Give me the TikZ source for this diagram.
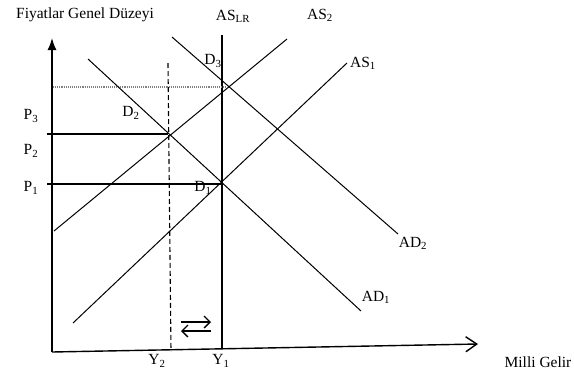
\documentclass[tikz,border=0pt]{standalone}
\usepackage{fontspec}
\setmainfont{Liberation Serif}
\usetikzlibrary{arrows.meta}

\begin{document}
\begin{tikzpicture}[x=1pt, y=-1pt,
      lbl/.style={font=\fontsize{15.5}{18}\selectfont, inner sep=1pt},
      curve/.style={line width=1pt},
      axis/.style={line width=1.4pt},
      guide/.style={line width=1.1pt},
      barb/.style={line width=1.3pt, -{Straight Barb[length=6pt, width=12pt]}}]
    \useasboundingbox (0,0) rectangle (574,376);
    % axes
    \coordinate (O) at (52,352);
    \coordinate (ytop) at (52,38);
    \coordinate (xend) at (478,344);
    \draw[axis, -{Latex[length=12pt, width=9pt]}] (O) -- (ytop);
    \draw[axis, -{Straight Barb[length=11pt, width=15pt]}] (O) -- (xend);
    % equilibria
    \coordinate (D1) at (222,184);
    \coordinate (D2) at (168,134);
    \coordinate (D3) at (227,87);
    % long run supply and new output
    \coordinate (lrtop) at (222,35);
    \coordinate (lrbot) at (222,349);
    \draw[line width=2.6pt] (lrtop) -- (lrbot);
    \coordinate (y2top) at (168,63);
    \coordinate (y2bot) at (171,351);
    \draw[guide, dash pattern=on 5pt off 3pt] (y2top) -- (y2bot);
    % price levels
    \coordinate (p1l) at (47,184);
    \coordinate (p2l) at (47,134);
    \coordinate (p3l) at (53,87);
    \draw[guide] (p1l) -- (D1);
    \draw[guide] (p2l) -- (D2);
    \draw[guide, gray, densely dotted] (p3l) -- (D3);
    % supply and demand
    \coordinate (as1a) at (73,323);   \coordinate (as1b) at (347,63);
    \coordinate (as2a) at (54,231);   \coordinate (as2b) at (287,39);
    \coordinate (ad1a) at (88,59);    \coordinate (ad1b) at (361,311);
    \coordinate (ad2a) at (172,37);   \coordinate (ad2b) at (398,234);
    \draw[curve] (as1a) -- (as1b);
    \draw[curve] (as2a) -- (as2b);
    \draw[curve] (ad1a) -- (ad1b);
    \draw[curve] (ad2a) -- (ad2b);
    % adjustment arrows
    \coordinate (ra) at (181,322); \coordinate (rb) at (211,322);
    \coordinate (la) at (211,331); \coordinate (lb) at (181,331);
    \draw[barb] (ra) -- (rb);
    \draw[barb] (la) -- (lb);
    % labels
    \node[lbl] (ttl) at (85,15) {Fiyatlar Genel Düzeyi};
    \node[lbl] (aslr) at (233,16) {AS\textsubscript{LR}};
    \node[lbl] (as2) at (320,15) {AS\textsubscript{2}};
    \node[lbl] (as1) at (363,63) {AS\textsubscript{1}};
    \node[lbl] (ad2) at (413,243) {AD\textsubscript{2}};
    \node[lbl] (ad1) at (376,297) {AD\textsubscript{1}};
    \node[lbl] (d3) at (213,61) {D\textsubscript{3}};
    \node[lbl] (d2) at (131,113) {D\textsubscript{2}};
    \node[lbl] (d1) at (203,188) {D\textsubscript{1}};
    \node[lbl] (p3) at (31,116) {P\textsubscript{3}};
    \node[lbl] (p2) at (31,151) {P\textsubscript{2}};
    \node[lbl] (p1) at (31,188) {P\textsubscript{1}};
    \node[lbl] (y2) at (157,361) {Y\textsubscript{2}};
    \node[lbl] (y1) at (221,361) {Y\textsubscript{1}};
    \node[lbl] (mg) at (538,362) {Milli Gelir};
  \end{tikzpicture}
\end{document}
